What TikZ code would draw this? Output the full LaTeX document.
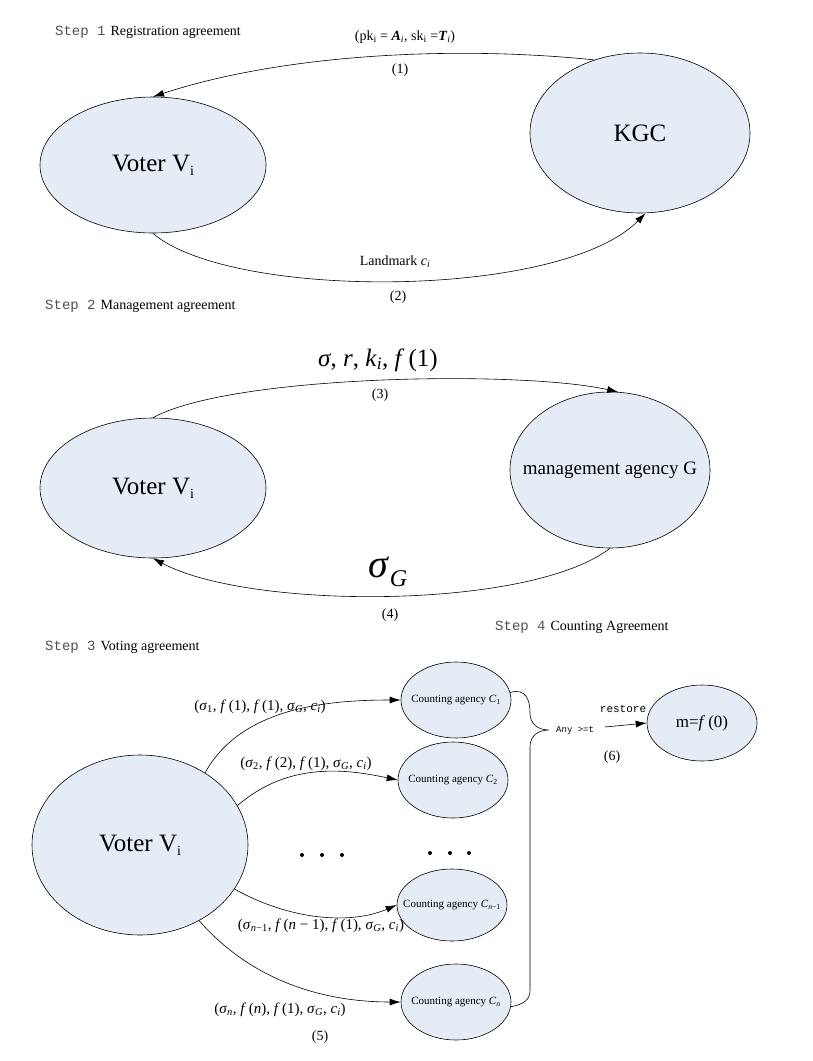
\documentclass[tikz,border=0pt]{standalone}
\usepackage{fontspec}
\setmainfont{Liberation Serif}
\setmonofont{Liberation Mono}
\usetikzlibrary{shapes.geometric,arrows.meta}
\definecolor{ellfill}{RGB}{230,236,246}
\definecolor{steptxt}{RGB}{80,80,80}
\newcommand{\iv}[1]{\textit{#1}}
\newcommand{\sbs}[1]{\textsubscript{#1}}
\newcommand{\fs}[1]{\fontsize{#1}{#1}\selectfont}
\newcommand{\vsub}{\raisebox{-4pt}{\fs{14}i}}
\newcommand{\zb}[1]{\makebox[0pt]{#1}}
\begin{document}
\begin{tikzpicture}[x=1pt,y=-1pt,
  ell/.style={ellipse, draw=black, fill=ellfill, line width=0.6pt, inner sep=0pt},
  arr/.style={-{Latex[length=11pt,width=7pt]}, line width=0.6pt},
  line/.style={line width=0.6pt},
  lbl/.style={inner sep=0pt},
  steplbl/.style={anchor=west, inner sep=0pt}
]
\useasboundingbox (0,0) rectangle (813,1061);

% ---------- Step 1 ----------
\node[steplbl] (s1) at (55,32) {\textcolor{steptxt}{\ttfamily\fs{14}Step 1}\ \ \fs{14}Registration agreement};
\node[ell, minimum width=226pt, minimum height=136pt] (v1) at (153,165) {\zb{\fs{25}Voter V\vsub}};
\node[ell, minimum width=220pt, minimum height=160pt] (kgc) at (640,133) {\zb{\fs{25}KGC}};
\draw[arr] (kgc.122) .. controls (450,45) and (280,55) .. (v1.north);
\node[lbl] (l1) at (405,37) {\fs{14}(pk\sbs{i} = \textbf{\textit{A}}\sbs{\iv{i}}, sk\sbs{i} =\textbf{\textit{T}}\sbs{\iv{i}})};
\node[lbl] (n1) at (400,70) {\fs{14}(1)};
\draw[arr] (v1.south) .. controls (230,300) and (560,300) .. (kgc.-86);
\node[lbl] (l2) at (395,262) {\fs{14}Landmark \iv{c}\sbs{\iv{i}}};
\node[lbl] (n2) at (398,297) {\fs{14}(2)};

% ---------- Step 2 ----------
\node[steplbl] (s2) at (45,306) {\textcolor{steptxt}{\ttfamily\fs{14}Step 2}\ \ \fs{14}Management agreement};
\node[ell, minimum width=226pt, minimum height=140pt] (v2) at (153,488) {\zb{\fs{25}Voter V\vsub}};
\node[ell, minimum width=200pt, minimum height=156pt] (mg) at (610,470) {\zb{\fs{19}management agency G}};
\draw[arr] (v2.north) .. controls (230,375) and (520,370) .. (mg.84);
\node[lbl] (l3) at (378,360) {\fs{25}\iv{σ}, \iv{r}, \iv{k}\sbs{\iv{i}}, \iv{f}\,(1)};
\node[lbl] (n3) at (380,395) {\fs{14}(3)};
\draw[arr] (mg.south) .. controls (530,610) and (250,610) .. (v2.south);
\node[lbl] (l4) at (388,572) {\fs{40}\iv{σ}\raisebox{-9pt}{\fs{24}\iv{G}}};
\node[lbl] (n4) at (390,615) {\fs{14}(4)};

% ---------- Step 3 / 4 ----------
\node[steplbl] (s4) at (495,627) {\textcolor{steptxt}{\ttfamily\fs{14}Step 4}\ \ \fs{14}Counting Agreement};
\node[steplbl] (s3) at (45,647) {\textcolor{steptxt}{\ttfamily\fs{14}Step 3}\ \ \fs{14}Voting agreement};

\node[ell, minimum width=216pt, minimum height=180pt] (v3) at (140,845) {\zb{\fs{25}Voter V\vsub}};
\node[ell, minimum width=110pt, minimum height=76pt] (c1) at (456,700) {\zb{\fs{11}Counting agency \iv{C}\sbs{1}}};
\node[ell, minimum width=110pt, minimum height=76pt] (c2) at (453,780) {\zb{\fs{11}Counting agency \iv{C}\sbs{2}}};
\node[ell, minimum width=110pt, minimum height=72pt] (cn1) at (452,905) {\zb{\fs{11}Counting agency \iv{C}\sbs{\iv{n}−1}}};
\node[ell, minimum width=110pt, minimum height=76pt] (cn) at (456,1002) {\zb{\fs{11}Counting agency \iv{C}\sbs{\iv{n}}}};
\node[ell, minimum width=110pt, minimum height=76pt] (m) at (702,723) {\zb{\fs{17}m=\iv{f}\,(0)}};

\draw[arr] (v3.48) .. controls (240,710) and (320,700) .. (c1.west);
\draw[arr] (v3.22) .. controls (290,760) and (350,770) .. (c2.west);
\draw[arr] (v3.-25) .. controls (290,920) and (350,925) .. (cn1.west);
\draw[arr] (v3.-52) .. controls (260,990) and (340,1002) .. (cn.west);

\node[lbl] (a1) at (260,707) {\fs{15}(\iv{σ}\sbs{1}, \iv{f}\,(1), \iv{f}\,(1), \iv{σ}\sbs{\iv{G}}, \iv{c}\sbs{\iv{i}})};
\node[lbl] (a2) at (306,764) {\fs{15}(\iv{σ}\sbs{2}, \iv{f}\,(2), \iv{f}\,(1), \iv{σ}\sbs{\iv{G}}, \iv{c}\sbs{\iv{i}})};
\node[lbl] (a3) at (321,926) {\fs{15}(\iv{σ}\sbs{\iv{n}−1}, \iv{f}\,(\iv{n} − 1), \iv{f}\,(1), \iv{σ}\sbs{\iv{G}}, \iv{c}\sbs{\iv{i}})};
\node[lbl] (a4) at (280,1010) {\fs{15}(\iv{σ}\sbs{\iv{n}}, \iv{f}\,(\iv{n}), \iv{f}\,(1), \iv{σ}\sbs{\iv{G}}, \iv{c}\sbs{\iv{i}})};
\node[lbl] (n5) at (320,1037) {\fs{14}(5)};

% dots
\foreach \x in {302,322,342} \fill (\x,855) circle (2pt);
\foreach \x in {430,450,469} \fill (\x,853) circle (2pt);

% brace
\coordinate (btip) at (549,730);
\draw[line] (c1.8) .. controls (526,688) and (530,700) .. (530,713)
   .. controls (530,724) and (538,730) .. (btip)
   .. controls (538,730) and (530,736) .. (530,747)
   -- (530,990) .. controls (530,1000) and (524,1004) .. (cn.-5);

\node[lbl, anchor=west] (any) at (556,730) {\ttfamily\fs{9}Any >=t};
\draw[arr] (605,727) -- (m.west);
\node[lbl] (rs) at (623,709) {\ttfamily\fs{11}restore};
\node[lbl] (n6) at (612,757) {\fs{14}(6)};
\end{tikzpicture}
\end{document}
